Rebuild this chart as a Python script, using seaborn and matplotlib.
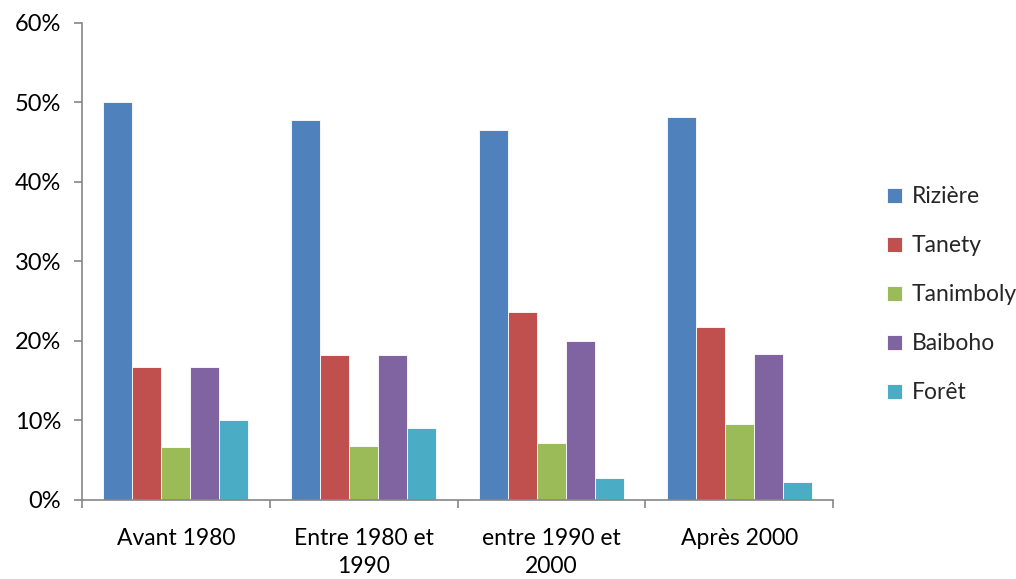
import matplotlib
matplotlib.use("Agg")
import matplotlib.pyplot as plt
from matplotlib.ticker import PercentFormatter, FixedLocator
import seaborn as sns
import pandas as pd

# Periods (x categories) and land-use types (hue)
periods = ["Avant 1980", "Entre 1980 et\n1990", "entre 1990 et\n2000", "Après 2000"]
land_types = ["Rizière", "Tanety", "Tanimboly", "Baiboho", "Forêt"]

# Share of each land-use type per period (%)
riziere = [50.0, 47.8, 46.5, 48.2]
tanety = [16.7, 18.2, 23.6, 21.7]
tanimboly = [6.7, 6.8, 7.1, 9.5]
baiboho = [16.7, 18.2, 20.0, 18.4]
foret = [10.0, 9.1, 2.8, 2.3]

colors = ["#4F81BD", "#C0504D", "#9BBB59", "#8064A2", "#4BACC6"]

series = [riziere, tanety, tanimboly, baiboho, foret]
df = pd.DataFrame(
    [(p, t, v) for t, vals in zip(land_types, series) for p, v in zip(periods, vals)],
    columns=["periode", "type", "part"],
)

sns.set_theme(style="white")
plt.rcParams["font.family"] = ["Lato", "DejaVu Sans"]

fig = plt.figure(figsize=(10.16, 5.79), dpi=100)
ax = fig.add_axes([0.0807, 0.1366, 0.7392, 0.8239])

sns.barplot(
    data=df, x="periode", y="part", hue="type",
    order=periods, hue_order=land_types, palette=colors,
    width=0.773, saturation=1, ax=ax,
    edgecolor="white", linewidth=0.6,
)

axis_grey = "#868686"
fs = 16.5
ax.set_ylim(0, 60)
ax.set_xlim(-0.5, len(periods) - 0.5)
ax.set_yticks(range(0, 61, 10))
ax.yaxis.set_major_formatter(PercentFormatter(decimals=0))
ax.set_xlabel("")
ax.set_ylabel("")

# Tick marks on category boundaries, labels centred on each category
ax.xaxis.set_major_locator(FixedLocator([i - 0.5 for i in range(len(periods) + 1)]))
ax.xaxis.set_minor_locator(FixedLocator(range(len(periods))))
ax.set_xticklabels([""] * (len(periods) + 1))
ax.set_xticklabels(periods, minor=True, linespacing=1.45)
ax.tick_params(axis="x", which="major", length=6, width=1.2, color=axis_grey, direction="out")
ax.tick_params(axis="x", which="minor", length=0, labelsize=fs, pad=20, labelcolor="black")
ax.tick_params(axis="y", length=6, width=1.2, color=axis_grey, direction="out",
               labelsize=17, pad=9, labelcolor="black")
ax.tick_params(bottom=True, left=True)

for side in ["top", "right"]:
    ax.spines[side].set_visible(False)
for side in ["left", "bottom"]:
    ax.spines[side].set_color(axis_grey)
    ax.spines[side].set_linewidth(1.2)

handles, labels = ax.get_legend_handles_labels()
ax.legend(
    handles, labels, loc="center left", bbox_to_anchor=(1.045, 0.43),
    frameon=False, fontsize=fs, handlelength=0.65, handleheight=0.65,
    handletextpad=0.4, labelspacing=1.22,
)

fig.savefig("out.png", dpi=100)
